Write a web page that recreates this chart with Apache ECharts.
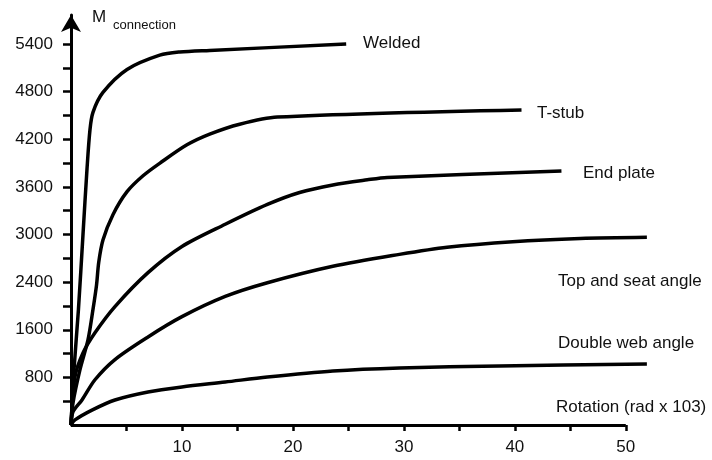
<!DOCTYPE html>
<html>
<head>
	<meta charset="UTF-8">
	<title>Moment-rotation curves</title>
	<script src="https://cdn.jsdelivr.net/npm/echarts@6/dist/echarts.min.js"></script>
	<style>
		html, body { margin: 0; padding: 0; background: #fff; }
		#main { width: 712px; height: 460px; }
	</style>
</head>
<body>
	<div id="main"></div>
	<script type="text/javascript">
		// y tick labels (unevenly spaced values on an evenly spaced axis)
		var yTicks = [0, 800, 1600, 2400, 3000, 3600, 4200, 4800, 5400];
		var xTicks = [10, 20, 30, 40, 50];
		var xMinorTicks = [5, 10, 15, 20, 25, 30, 35, 40, 45, 50];

		// [rotation, M]
		var welded = [[0, 0], [0.27, 930], [0.67, 1940], [1.08, 3000], [1.44, 3820], [1.71, 4320],
			[1.98, 4540], [2.88, 4790], [5.05, 5080], [8.0, 5260], [9.8, 5300], [12.5, 5320], [24.8, 5400]];
		var tStub = [[0, 0], [0.18, 370], [0.81, 930], [1.53, 1430], [1.98, 1940], [2.3, 2350],
			[2.5, 2650], [2.88, 2930], [3.78, 3250], [5.05, 3540], [6.49, 3740], [8.02, 3900],
			[10.45, 4130], [12.5, 4265], [15.2, 4390], [18.6, 4480], [40.6, 4570]];
		var endPlate = [[0, 0], [0.36, 810], [1.08, 1210], [2.16, 1550], [3.96, 1990], [6.94, 2520],
			[10.0, 2850], [13.9, 3130], [17.7, 3380], [20.6, 3530], [23.6, 3625], [26.7, 3690],
			[28.5, 3720], [44.2, 3800]];
		var topSeat = [[0, 0], [0.18, 220], [0.99, 420], [2.16, 760], [3.96, 1100], [6.94, 1480],
			[10.0, 1820], [13.9, 2160], [17.7, 2390], [23.6, 2600], [29.6, 2750], [33.9, 2840],
			[39.8, 2910], [45.9, 2950], [51.9, 2965]];
		var doubleWeb = [[0, 0], [0.36, 85], [1.89, 250], [3.96, 420], [6.94, 555], [10.0, 640],
			[13.9, 722], [17.7, 806], [23.6, 907], [29.6, 958], [38.6, 991], [51.9, 1025]];

		// map a moment value onto the evenly spaced tick index used by the axis
		function toIdx(m) {
			for (var i = 1; i < yTicks.length; i++) {
				if (m <= yTicks[i]) {
					return i - 1 + (m - yTicks[i - 1]) / (yTicks[i] - yTicks[i - 1]);
				}
			}
			var n = yTicks.length - 1;
			return n + (m - yTicks[n]) / (yTicks[n] - yTicks[n - 1]);
		}

		function mkSeries(name, pts) {
			return {
				name: name,
				type: 'line',
				data: pts.map(function (p) { return [p[0], toIdx(p[1])]; }),
				showSymbol: false,
				smooth: 0.3,
				lineStyle: { color: '#000', width: 3.5 },
				animation: false
			};
		}

		var font = '"Liberation Sans", Arial, Helvetica, sans-serif';
		var halfTicks = [];
		for (var k = 1; k <= 16; k++) halfTicks.push(k / 2);

		var series = [
			mkSeries('Welded', welded),
			mkSeries('T-stub', tStub),
			mkSeries('End plate', endPlate),
			mkSeries('Top and seat angle', topSeat),
			mkSeries('Double web angle', doubleWeb)
		];
		// x axis line stops at 50 while two curves run a little past it
		series[0].markLine = {
			silent: true,
			symbol: 'none',
			label: { show: false },
			lineStyle: { color: '#000', width: 3, type: 'solid' },
			data: [[{ coord: [0, 0] }, { coord: [50, 0] }]]
		};

		var myChart = echarts.init(document.getElementById('main'));
		var option = {
			animation: false,
			grid: { left: 71, right: 64, top: 15, bottom: 35 },
			xAxis: {
				type: 'value',
				min: 0,
				max: 52,
				axisLine: { show: false, onZero: false },
				axisTick: { show: true, length: 6, customValues: xMinorTicks, lineStyle: { color: '#000', width: 2.5 } },
				axisLabel: {
					margin: 14,
					color: '#111',
					fontSize: 17,
					fontFamily: font,
					customValues: xTicks
				},
				splitLine: { show: false }
			},
			yAxis: {
				type: 'value',
				min: 0,
				max: 8.61,
				axisLine: {
					show: true,
					onZero: false,
					symbol: ['none', 'arrow'],
					symbolSize: [15, 17],
					lineStyle: { color: '#000', width: 3 }
				},
				axisTick: {
					show: true,
					length: 8,
					customValues: halfTicks,
					lineStyle: { color: '#000', width: 2.5 }
				},
				axisLabel: {
					margin: 18,
					color: '#111',
					fontSize: 17,
					fontFamily: font,
					customValues: [1, 2, 3, 4, 5, 6, 7, 8],
					formatter: function (v) { return String(yTicks[Math.round(v)]); }
				},
				splitLine: { show: false }
			},
			graphic: [
				{ type: 'text', left: 92, top: 9, style: { text: 'M', fontSize: 17, fontFamily: font, fill: '#111' } },
				{ type: 'text', left: 113, top: 19, style: { text: 'connection', fontSize: 13, fontFamily: font, fill: '#111' } },
				{ type: 'text', left: 363, top: 35, style: { text: 'Welded', fontSize: 17, fontFamily: font, fill: '#111' } },
				{ type: 'text', left: 537, top: 105, style: { text: 'T-stub', fontSize: 17, fontFamily: font, fill: '#111' } },
				{ type: 'text', left: 583, top: 165, style: { text: 'End plate', fontSize: 17, fontFamily: font, fill: '#111' } },
				{ type: 'text', left: 558, top: 273, style: { text: 'Top and seat angle', fontSize: 17, fontFamily: font, fill: '#111' } },
				{ type: 'text', left: 558, top: 335, style: { text: 'Double web angle', fontSize: 17, fontFamily: font, fill: '#111' } },
				{ type: 'text', left: 556, top: 399, style: { text: 'Rotation (rad x 103)', fontSize: 17, fontFamily: font, fill: '#111' } }
			],
			series: series
		};
		myChart.setOption(option);
	</script>
</body>
</html>
